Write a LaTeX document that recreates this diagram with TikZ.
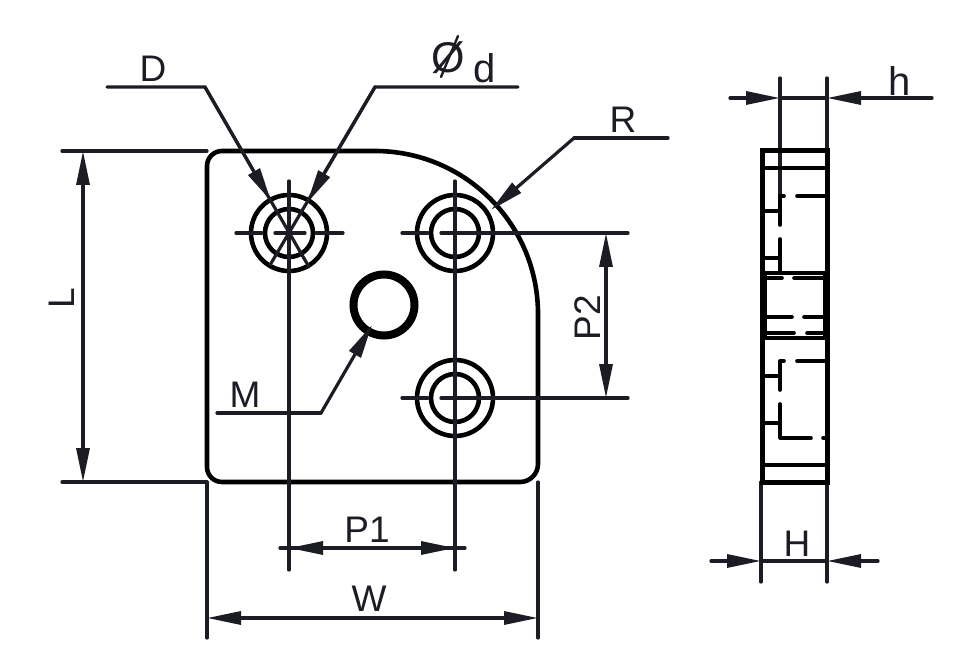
\documentclass[tikz,border=0pt]{standalone}
\usepackage{fontspec}
\setmainfont{Liberation Sans}
\usetikzlibrary{arrows.meta}
\definecolor{ink}{RGB}{28,28,36}
\tikzset{
  x=1pt,y=-1pt,
  outline/.style={line width=4.6pt,draw=black},
  thin line/.style={line width=3.2pt,draw=ink,line cap=round},
  dim/.style={line width=3.2pt,draw=ink,line cap=round},
  tip/.style={-{Triangle[length=34pt,width=13pt]}},
  bothtip/.style={{Triangle[length=34pt,width=13pt]}-{Triangle[length=34pt,width=13pt]}},
  lab/.style={font=\fontsize{37}{37}\selectfont,text=ink,inner sep=0pt},
  hidden/.style={line width=3.6pt,draw=black,line cap=round},
  edge line/.style={line width=4.6pt,draw=black},
}
\begin{document}
\begin{tikzpicture}
\useasboundingbox (0,0) rectangle (964,660);
% key points
\coordinate (hA) at (289,233);
\coordinate (hB) at (455,233);
\coordinate (hC) at (455,398);
\coordinate (hM) at (384,305);
% plate
\draw[outline,line join=round] (207,166) arc[start angle=180,end angle=270,radius=15] -- (375,151)
  arc[start angle=270,end angle=360,radius=163] -- (538,464)
  arc[start angle=0,end angle=90,radius=18] -- (222,482)
  arc[start angle=90,end angle=180,radius=15] -- cycle;
% holes
\foreach \c in {hA,hB,hC}{
  \draw[outline] (\c) circle[radius=38];
  \draw[outline] (\c) circle[radius=24];
}
\draw[line width=8pt,draw=black] (hM) circle[radius=30.5];
% centre lines
\draw[thin line] (236,233) -- (262,233) (275,233) -- (305,233) (316,233) -- (343,233);
\draw[thin line] (289,181) -- (289,570);
\draw[thin line] (402,233) -- (428,233) (441,233) -- (628,233);
\draw[thin line] (455,181) -- (455,570);
\draw[thin line] (402,398) -- (428,398) (441,398) -- (628,398);
% leaders
\coordinate (Da) at (107,87); \coordinate (Db) at (205,87); \coordinate (Dc) at (271,201); \coordinate (Dd) at (309,267);
\draw[dim] (Da) -- (Db) -- (Dd);
\draw[dim,tip] (Db) -- (Dc);
\coordinate (da) at (518,87); \coordinate (db) at (375,87); \coordinate (dc) at (307,203); \coordinate (dd) at (270,265);
\draw[dim] (da) -- (db) -- (dd);
\draw[dim,tip] (db) -- (dc);
\coordinate (Ra) at (668,138); \coordinate (Rb) at (574,138); \coordinate (Rc) at (491,210);
\draw[dim] (Ra) -- (Rb);
\draw[dim,tip] (Rb) -- (Rc);
\coordinate (Ma) at (217,413); \coordinate (Mb) at (321,413); \coordinate (Mc) at (372,325);
\draw[dim] (Ma) -- (Mb);
\draw[dim,tip] (Mb) -- (Mc);
% L dimension
\draw[dim] (62,151) -- (207,151) (62,482) -- (207,482);
\coordinate (La) at (83,151); \coordinate (Lb) at (83,482);
\draw[dim,bothtip] (La) -- (Lb);
% P2
\coordinate (Pa) at (606,233); \coordinate (Pb) at (606,398);
\draw[dim,bothtip] (Pa) -- (Pb);
% P1
\coordinate (Qa) at (280,548); \coordinate (Qb) at (465,548);
\coordinate (Qc) at (289,548); \coordinate (Qd) at (455,548);
\draw[dim] (Qa) -- (Qb);
\draw[dim,bothtip] (Qc) -- (Qd);
% W
\draw[dim] (207,482) -- (207,638) (538,482) -- (538,638);
\coordinate (Wa) at (207,618); \coordinate (Wb) at (538,618);
\draw[dim,bothtip] (Wa) -- (Wb);
% h
\draw[dim] (780,78) -- (780,196) (827,78) -- (827,151);
\coordinate (ha) at (730,98); \coordinate (hb) at (780,98); \coordinate (hc) at (932,98); \coordinate (hd) at (827,98);
\draw[dim] (hb) -- (hd);
\draw[dim,tip] (ha) -- (hb);
\draw[dim,tip] (hc) -- (hd);
% H
\draw[dim] (761,482) -- (761,582) (827,482) -- (827,582);
\coordinate (Ha) at (711,561); \coordinate (Hb) at (761,561); \coordinate (Hc) at (878,561); \coordinate (Hd) at (827,561);
\draw[dim] (Hb) -- (Hd);
\draw[dim,tip] (Ha) -- (Hb);
\draw[dim,tip] (Hc) -- (Hd);
% side view
\draw[line width=5pt,draw=black] (762,151) rectangle (827,482);
\draw[line width=7pt,draw=black] (763,273) -- (763,338) (826,273) -- (826,338);
\draw[edge line] (761,168) -- (827,168) (761,273) -- (827,273) (761,338) -- (827,338) (761,465) -- (827,465);
\draw[hidden] (780,196) -- (784,196) (797,196) -- (825,196)
  (780,196) -- (780,225) (780,239) -- (780,272)
  (763,211) -- (780,211) (763,258) -- (780,258)
  (763,278) -- (782,278) (794,278) -- (825,278)
  (763,317) -- (792,317) (804,317) -- (825,317)
  (763,333) -- (794,333) (807,333) -- (825,333)
  (780,361) -- (784,361) (797,361) -- (825,361)
  (780,361) -- (780,390) (780,404) -- (780,437)
  (763,376) -- (780,376) (763,423) -- (780,423)
  (780,438) -- (811,438) (823,438) -- (825,438);
% labels
\node[lab] (tD) at (153,69) {D};
\node[lab,font=\fontsize{43}{43}\selectfont] (tphi) at (448,58) {Ø};
\coordinate (sa) at (458,36); \coordinate (sb) at (441,77);
\draw[line width=2.4pt,draw=ink,line cap=round] (sa) -- (sb);
\node[lab,font=\fontsize{40}{40}\selectfont] (td) at (485,68) {d};
\node[lab] (tR) at (623,120) {R};
\node[lab,font=\fontsize{40}{40}\selectfont] (th) at (900,81) {h};
\node[lab,rotate=90] (tL) at (62,298) {L};
\node[lab,rotate=90] (tP2) at (588,318) {P2};
\node[lab] (tM) at (245,395) {M};
\node[lab] (tP1) at (367,530) {P1};
\node[lab] (tW) at (369,599) {W};
\node[lab] (tH) at (797,544) {H};
\end{tikzpicture}
\end{document}
